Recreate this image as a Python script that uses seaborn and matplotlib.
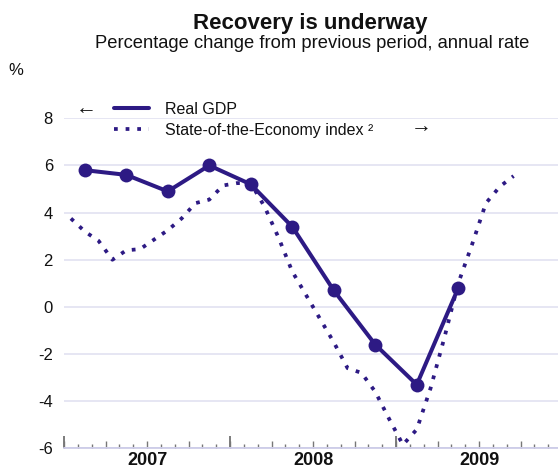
import numpy as np
import pandas as pd
import matplotlib
matplotlib.use("Agg")
import matplotlib.pyplot as plt
import seaborn as sns
from matplotlib.ticker import MultipleLocator, FixedLocator, NullFormatter
from matplotlib.lines import Line2D

# ---- data ----
gdp_quarters = ["2007Q1", "2007Q2", "2007Q3", "2007Q4", "2008Q1", "2008Q2",
                "2008Q3", "2008Q4", "2009Q1", "2009Q2"]
gdp_values = [5.8, 5.6, 4.9, 6.0, 5.2, 3.4, 0.7, -1.6, -3.3, 0.8]

soe_months = pd.period_range("2007-01", "2009-09", freq="M")
soe_values = [3.75, 3.2, 2.8, 2.0, 2.4, 2.45, 2.85, 3.25, 3.75, 4.4, 4.55, 5.15,
              5.25, 5.25, 4.25, 2.95, 1.5, 0.5, -0.5, -1.5, -2.6, -2.8, -3.6, -4.75,
              -5.85, -5.2, -3.45, -1.3, 1.0, 2.65, 4.4, 5.1, 5.55]

year_labels = ["2007", "2008", "2009"]
y_ticks = [-6, -4, -2, 0, 2, 4, 6, 8]

title = "Recovery is underway"
subtitle = "Percentage change from previous period, annual rate"
label_gdp = "Real GDP"
label_soe = "State-of-the-Economy index \u00b2"

# ---- convert periods to fractional years (mid-period) ----
gq = pd.PeriodIndex(gdp_quarters, freq="Q")
gdp_x = gq.year + (gq.quarter - 1 + 0.5) / 4.0
soe_x = soe_months.year + (soe_months.month - 1 + 0.5) / 12.0

df_gdp = pd.DataFrame({"x": np.asarray(gdp_x, float), "y": gdp_values})
df_soe = pd.DataFrame({"x": np.asarray(soe_x, float), "y": soe_values})

sns.set_style("white")
plt.rcParams["font.family"] = ["Liberation Sans", "DejaVu Sans"]

W, H = 558, 468
fig = plt.figure(figsize=(W / 100, H / 100), dpi=100)
ax = fig.add_axes([64 / W, (H - 448.3) / H, (W - 64) / W, 330 / H])

color = "#2d1a84"
grid_col = "#e2e1f1"
txt = "#111111"
dots = [1.0, 2.1]

sns.lineplot(data=df_soe, x="x", y="y", ax=ax, color=color, lw=2.7,
             linestyle=":", zorder=2)
soe_line = ax.lines[-1]
soe_line.set_dashes(dots)
soe_line.set_dash_capstyle("butt")

sns.lineplot(data=df_gdp, x="x", y="y", ax=ax, color=color, lw=2.9,
             marker="o", markersize=10, markeredgewidth=0, zorder=3)

ax.set_xlim(2007, 2007 + 494 / 166)
ax.set_ylim(-6, 8)
ax.set_xlabel("")
ax.set_ylabel("")

# y axis
ax.set_yticks(y_ticks)
ax.set_yticklabels([str(v) for v in y_ticks])
ax.tick_params(axis="y", left=False, length=0, pad=8, labelsize=12,
               labelcolor=txt)
ax.grid(axis="y", color=grid_col, lw=1.2, zorder=0)
ax.grid(axis="x", visible=False)
for s in ["top", "right", "left"]:
    ax.spines[s].set_visible(False)
ax.spines["bottom"].set_color("#c9c8e6")
ax.spines["bottom"].set_linewidth(1.2)

# x ticks: quarters (major) and months (minor), drawn inward
ax.xaxis.set_major_locator(MultipleLocator(0.25))
ax.xaxis.set_minor_locator(MultipleLocator(1 / 12))
ax.xaxis.set_major_formatter(NullFormatter())
ax.tick_params(axis="x", which="both", bottom=True, labelbottom=False)
ax.tick_params(axis="x", which="major", direction="in", length=5, width=1,
               color="#777777")
ax.tick_params(axis="x", which="minor", direction="in", length=2.7, width=1,
               color="#777777")

# year ticks and year labels on a secondary axis
sec = ax.secondary_xaxis("bottom")
sec.spines["bottom"].set_visible(False)
years = [int(y) for y in year_labels]
sec.xaxis.set_major_locator(FixedLocator(years + [years[-1] + 1]))
sec.xaxis.set_major_formatter(NullFormatter())
sec.xaxis.set_minor_locator(FixedLocator([y + 0.5 for y in years]))
sec.set_xticklabels(year_labels, minor=True)
sec.tick_params(axis="x", which="both", bottom=True, labelbottom=True)
sec.tick_params(axis="x", which="major", direction="in", length=9, width=1.2,
                color="#666666")
sec.tick_params(axis="x", which="minor", length=0, pad=3, labelsize=13,
                labelcolor=txt)
for t in sec.get_xticklabels(minor=True):
    t.set_fontweight("bold")

# titles
fig.text(310 / W, 1 - 29.3 / H, title, ha="center", va="baseline",
         fontsize=16, fontweight="bold", color=txt)
fig.text(312 / W, 1 - 47.7 / H, subtitle, ha="center", va="baseline",
         fontsize=13.2, color=txt)
fig.text(15.5 / W, 1 - 75 / H, "%", ha="center", va="baseline", fontsize=12,
         color=txt)

# legend
handles = [Line2D([], [], color=color, lw=2.9),
           Line2D([], [], color=color, lw=2.7, dashes=dots,
                  dash_capstyle="butt")]
leg = fig.legend(handles, [label_gdp, label_soe], loc="upper left",
                 bbox_to_anchor=(114 / W, 1 - 102 / H), frameon=False,
                 fontsize=11.5, handlelength=2.2, handletextpad=1.0,
                 labelspacing=0.38, borderpad=0, borderaxespad=0)
for t in leg.get_texts():
    t.set_color(txt)
fig.text(86 / W, 1 - 109 / H, "\u2190", ha="center", va="center",
         fontsize=15, color=txt)
fig.text(421 / W, 1 - 127 / H, "\u2192", ha="center", va="center",
         fontsize=15, color=txt)

fig.savefig("out.png", dpi=100)
